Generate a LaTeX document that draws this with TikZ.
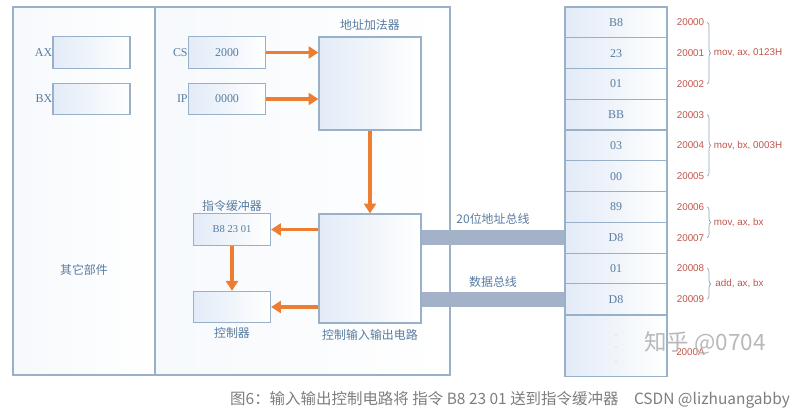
\documentclass[tikz,border=0pt]{standalone}
\usepackage{fontspec}
\setmainfont{Liberation Serif}
\newfontfamily\cjk{Noto Sans CJK SC}
\newfontfamily\addrfont{Liberation Sans}
\usetikzlibrary{arrows.meta, positioning, decorations.pathreplacing}
\definecolor{frameLine}{RGB}{152,176,200}
\definecolor{textBlue}{RGB}{88,124,160}
\definecolor{flowOrange}{RGB}{237,125,49}
\definecolor{busGray}{RGB}{163,178,201}
\definecolor{addrRed}{RGB}{192,84,74}
\definecolor{boxBg}{RGB}{226,235,247}
\definecolor{capGray}{RGB}{125,125,125}
\definecolor{markGray}{RGB}{185,185,185}

\begin{document}
\begin{tikzpicture}[
    x=0.025cm, y=-0.025cm,
    panel/.style={rectangle, draw=frameLine, line width=0.9pt, left color=boxBg!30, right color=white, inner sep=0pt},
    reg/.style={rectangle, draw=frameLine, line width=0.8pt, left color=boxBg, right color=white, minimum width=1.925cm, minimum height=0.78cm, inner sep=0pt, font=\fontsize{8.5}{10}\selectfont, text=textBlue},
    unit/.style={rectangle, draw=frameLine, line width=0.8pt, left color=boxBg, right color=white, minimum width=2.55cm, inner sep=0pt},
    cell/.style={rectangle, draw=frameLine, line width=0.8pt, left color=boxBg, right color=white, minimum width=2.55cm, minimum height=0.769cm, inner sep=0pt, font=\fontsize{8.5}{10}\selectfont, text=textBlue},
    tag/.style={font=\cjk\fontsize{8.5}{10}\selectfont, text=textBlue, inner sep=0pt},
    addr/.style={font=\addrfont\fontsize{7}{8}\selectfont, text=addrRed, inner sep=0pt},
    flow/.style={-{Triangle[length=7pt, width=8.5pt]}, line width=2.2pt, draw=flowOrange},
    bus/.style={line width=10.7pt, draw=busGray},
    brc/.style={decorate, decoration={brace, amplitude=2.5pt}, draw=textBlue!70, line width=0.5pt}
  ]
    \useasboundingbox (0,0) rectangle (804,418);

    % Frames
    \node[panel, minimum width=3.55cm, minimum height=9.2cm] (others) at (84,191) {};
    \node[panel, minimum width=7.375cm, minimum height=9.2cm] (cpu) at (302.5,191) {};
    \node[tag] (otherstag) at (84,270) {其它部件};

    % Registers
    \node[reg] (ax) at (91.5,52.5) {};
    \node[reg] (bx) at (91.5,99) {};
    \node[reg] (cs) at (227,52.5) {2000};
    \node[reg] (ip) at (227,99) {0000};
    \node[font=\fontsize{8.5}{10}\selectfont, text=textBlue, inner sep=0pt, left=0pt of ax] (axtag) {AX};
    \node[font=\fontsize{8.5}{10}\selectfont, text=textBlue, inner sep=0pt, left=0pt of bx] (bxtag) {BX};
    \node[font=\fontsize{8.5}{10}\selectfont, text=textBlue, inner sep=0pt, left=0pt of cs] (cstag) {CS};
    \node[font=\fontsize{8.5}{10}\selectfont, text=textBlue, inner sep=0pt, left=0pt of ip] (iptag) {IP};

    % Adder, I/O circuit, buffer, controller
    \node[unit, minimum height=2.325cm] (adder) at (370,83.5) {};
    \node[unit, minimum height=2.725cm] (io) at (370,268.5) {};
    \node[reg, font=\fontsize{7.5}{9}\selectfont] (buf) at (232,229.5) {B8 23 01};
    \node[reg] (ctrl) at (232,307) {};
    \node[tag, above=4pt of adder] (addertag) {地址加法器};
    \node[tag, above=1pt of buf] (buftag) {指令缓冲器};
    \node[tag, below=3pt of ctrl] (ctrltag) {控制器};
    \node[tag, below=4pt of io] (iotag) {控制输入输出电路};

    % Memory
    \foreach \val [count=\i from 0] in {B8,23,01,BB,03,00,89,D8,01,D8}
      \node[cell] (m\i) at (616,{7+30.76*(\i+0.5)}) {\val};
    \node[cell, minimum height=1.52cm, below=0pt of m9] (m10) {};
    \foreach \dy in {335,347,362}
      \fill[textBlue!45] (616,\dy) circle (0.5pt);

    % Addresses
    \foreach \a [count=\i from 0] in {20000,20001,20002,20003,20004,20005,20006,20007,20008,20009}
      \node[addr] (a\i) at (690.5,{7+30.76*(\i+0.5)}) {\a};
    \node[addr] (a10) at (690.5,352) {2000A};
    \draw[brc] ([xshift=2pt]a0.east) -- node[addr, right=4.5pt] {mov, ax, 0123H} ([xshift=2pt]a2.east);
    \draw[brc] ([xshift=2pt]a3.east) -- node[addr, right=4.5pt] {mov, bx, 0003H} ([xshift=2pt]a5.east);
    \draw[brc] ([xshift=2pt]a6.east) -- node[addr, right=4.5pt] {mov, ax, bx} ([xshift=2pt]a7.east);
    \draw[brc] ([xshift=2pt]a8.east) -- node[addr, right=5.5pt] {add, ax, bx} ([xshift=2pt]a9.east);

    % Buses
    \draw[bus] (io.east |- m7.west) -- node[tag, above=4pt] {20位地址总线} (m7.west);
    \draw[bus] (io.east |- m9.west) -- node[tag, above=3pt] {数据总线} (m9.west);

    % Flow arrows
    \draw[flow] (cs.east) -- (cs.east -| adder.west);
    \draw[flow] (ip.east) -- (ip.east -| adder.west);
    \draw[flow] (adder.south) -- (io.north);
    \draw[flow] (io.west |- buf.east) -- (buf.east);
    \draw[flow] (io.west |- ctrl.east) -- (ctrl.east);
    \draw[flow] (buf.south) -- (ctrl.north);

    % Watermark and caption
    \node[font=\cjk\fontsize{16}{18}\selectfont, text=markGray, inner sep=0pt] (mark) at (705,343) {知乎 @0704};
    \node[font=\cjk\fontsize{11}{13}\selectfont, text=capGray, inner sep=0pt] (caption) at (510,400) {图6：输入输出控制电路将 指令 B8 23 01 送到指令缓冲器\quad CSDN @lizhuangabby};
\end{tikzpicture}
\end{document}
